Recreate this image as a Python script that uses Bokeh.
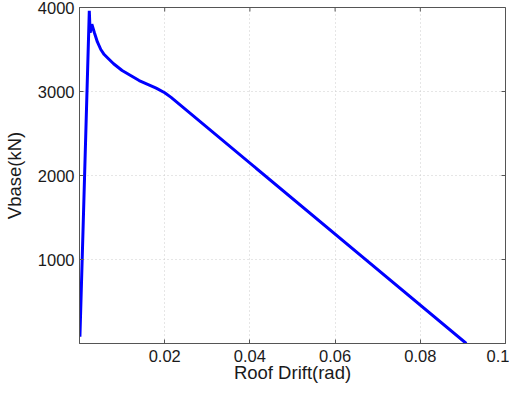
import math
from bokeh.plotting import figure
from bokeh.models import FixedTicker, Range1d
from bokeh.embed import file_html
from bokeh.resources import INLINE

# Data (roof drift in rad, base shear in kN)
drift = [0.0001, 0.0008, 0.0023, 0.0025, 0.0029, 0.0035, 0.0042, 0.0050, 0.0058,
         0.0068, 0.0080, 0.0100, 0.0120, 0.0140, 0.0160, 0.0180, 0.0200, 0.0215, 0.0908]
vbase = [80, 1300, 3960, 3700, 3800, 3700, 3590, 3500, 3440,
         3390, 3330, 3250, 3190, 3130, 3085, 3040, 2985, 2930, 0]

x_ticks = [0.02, 0.04, 0.06, 0.08, 0.1]
x_tick_labels = ["0.02", "0.04", "0.06", "0.08", "0.1"]
y_ticks = [1000, 2000, 3000, 4000]
y_tick_labels = ["1000", "2000", "3000", "4000"]
x_lim = (0, 0.1)
y_lim = (0, 4000)

FONT = "Liberation Sans"
AX = "#555555"
TXT = "#1a1a1a"

p = figure(width=509, height=385, output_backend="svg", toolbar_location=None,
           x_range=Range1d(*x_lim), y_range=Range1d(*y_lim),
           min_border_left=72, min_border_right=4, min_border_top=7, min_border_bottom=40,
           x_axis_label="Roof Drift(rad)", y_axis_label="Vbase(kN)")
p.outline_line_color = AX
p.outline_line_width = 1
p.background_fill_color = "white"
p.border_fill_color = "white"

p.line(drift, vbase, line_color="#0000ff", line_width=3)

def style_axis(ax, ticks, labels):
    ax.ticker = FixedTicker(ticks=ticks)
    ax.major_label_overrides = {t: l for t, l in zip(ticks, labels)}
    ax.axis_line_color = AX
    ax.major_tick_line_color = AX
    ax.major_tick_in = 4
    ax.major_tick_out = 0
    ax.minor_tick_line_color = None
    ax.major_label_text_font = FONT
    ax.major_label_text_font_size = "16.5px"
    ax.major_label_text_color = TXT
    ax.axis_label_text_font = FONT
    ax.axis_label_text_font_size = "18.5px"
    ax.axis_label_text_font_style = "normal"
    ax.axis_label_text_color = TXT

style_axis(p.xaxis[0], x_ticks, x_tick_labels)
style_axis(p.yaxis[0], y_ticks, y_tick_labels)
p.xaxis[0].major_label_standoff = 6
p.xaxis[0].axis_label_standoff = -3
p.yaxis[0].major_label_standoff = 5
p.yaxis[0].axis_label_standoff = 10

# tick marks on the top and right edges of the box (MATLAB style)
p.scatter(x_ticks, [y_lim[1]] * len(x_ticks), marker="dash", angle=math.pi / 2,
          size=8, line_color=AX, line_width=1)
p.scatter([x_lim[1]] * len(y_ticks), y_ticks, marker="dash",
          size=8, line_color=AX, line_width=1)

p.xgrid.ticker = FixedTicker(ticks=x_ticks)
p.ygrid.ticker = FixedTicker(ticks=y_ticks)
for g in (p.xgrid[0], p.ygrid[0]):
    g.grid_line_color = "#cccccc"
    g.grid_line_dash = "1 3"
    g.grid_line_width = 1

open("out.html", "w").write(file_html(p, INLINE))
